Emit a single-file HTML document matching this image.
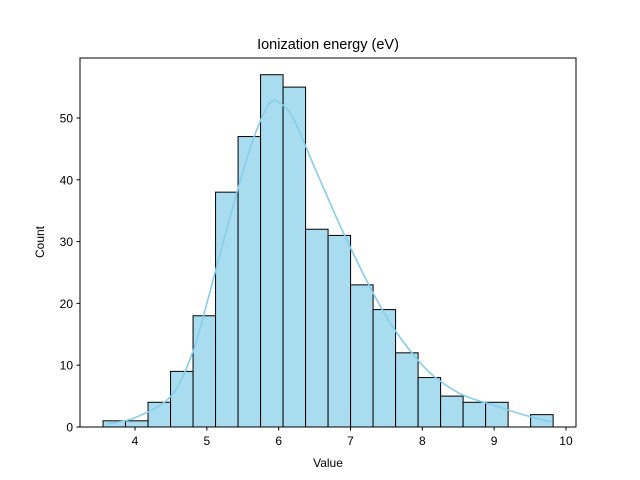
<!DOCTYPE html>
<html><head><meta charset="utf-8"><style>
body{margin:0;background:#fff}
svg{display:block;font-family:"Liberation Sans","DejaVu Sans",sans-serif}
</style></head><body>
<svg id="chart" width="640" height="480">
<rect x="0" y="0" width="640" height="480" fill="#fff"/>
<text x="328" y="49" text-anchor="middle" font-size="14.5">Ionization energy (eV)</text>
<g id="bars"></g>
<path id="kde" fill="none" stroke="#87ceeb" stroke-width="1.6"/>
<rect x="80" y="58" width="496" height="369" fill="none" stroke="#000" stroke-width="1"/>
<g id="xticks"></g><g id="yticks"></g>
<text x="328" y="467" text-anchor="middle" font-size="12">Value</text>
<text transform="translate(44,242) rotate(-90)" text-anchor="middle" font-size="12">Count</text>
</svg>
<script>
const binStart = 3.555;
const binWidth = 0.3133;
const counts = [1,1,4,9,18,38,47,57,55,32,31,23,19,12,8,5,4,4,0,2];
const kdeX = [3.6,4.0,4.5,4.8,5.0,5.3,5.6,5.85,6.0,6.2,6.5,6.8,7.0,7.3,7.6,8.0,8.3,8.6,9.0,9.4,9.8];
const kdeY = [0.5,1.5,5,12,20,33,45,52,52.5,50,42,34,29,22,16,10,7,5,3.5,2,0.8];
const xTickVals = [4,5,6,7,8,9,10];
const yTickVals = [0,10,20,30,40,50];
const NS="http://www.w3.org/2000/svg";
const xs = v => 135 + (v-4)*71.83;
const ys = v => 427 - v*6.18;
const bars=document.getElementById('bars');
counts.forEach((c,i)=>{
  const r=document.createElementNS(NS,'rect');
  const x0=xs(binStart+i*binWidth), x1=xs(binStart+(i+1)*binWidth);
  r.setAttribute('x',x0);r.setAttribute('width',x1-x0);
  r.setAttribute('y',ys(c));r.setAttribute('height',ys(0)-ys(c));
  r.setAttribute('fill','#a9dcef');r.setAttribute('stroke','#000');r.setAttribute('stroke-width','1');
  
  
  bars.appendChild(r);
});
const pts=kdeX.map((x,i)=>[xs(x),ys(kdeY[i])]);
let d='M'+pts[0][0]+','+pts[0][1];
for(let i=0;i<pts.length-1;i++){
  const p0=pts[Math.max(0,i-1)],p1=pts[i],p2=pts[i+1],p3=pts[Math.min(pts.length-1,i+2)];
  const c1=[p1[0]+(p2[0]-p0[0])/6,p1[1]+(p2[1]-p0[1])/6];
  const c2=[p2[0]-(p3[0]-p1[0])/6,p2[1]-(p3[1]-p1[1])/6];
  d+=` C${c1[0]},${c1[1]} ${c2[0]},${c2[1]} ${p2[0]},${p2[1]}`;
}
document.getElementById('kde').setAttribute('d',d);
const xt=document.getElementById('xticks');
xTickVals.forEach(v=>{
  const g=document.createElementNS(NS,'g');
  
  
  g.innerHTML=`<line x1="${xs(v)}" x2="${xs(v)}" y1="427" y2="430.5" stroke="#000"/><text x="${xs(v)}" y="445" text-anchor="middle" font-size="12">${v}</text>`;
  xt.appendChild(g);
});
const yt=document.getElementById('yticks');
yTickVals.forEach(v=>{
  const g=document.createElementNS(NS,'g');
  
  
  g.innerHTML=`<line x1="76.5" x2="80" y1="${ys(v)}" y2="${ys(v)}" stroke="#000"/><text x="73" y="${ys(v)+4.5}" text-anchor="end" font-size="12">${v}</text>`;
  yt.appendChild(g);
});
</script>
</body></html>
